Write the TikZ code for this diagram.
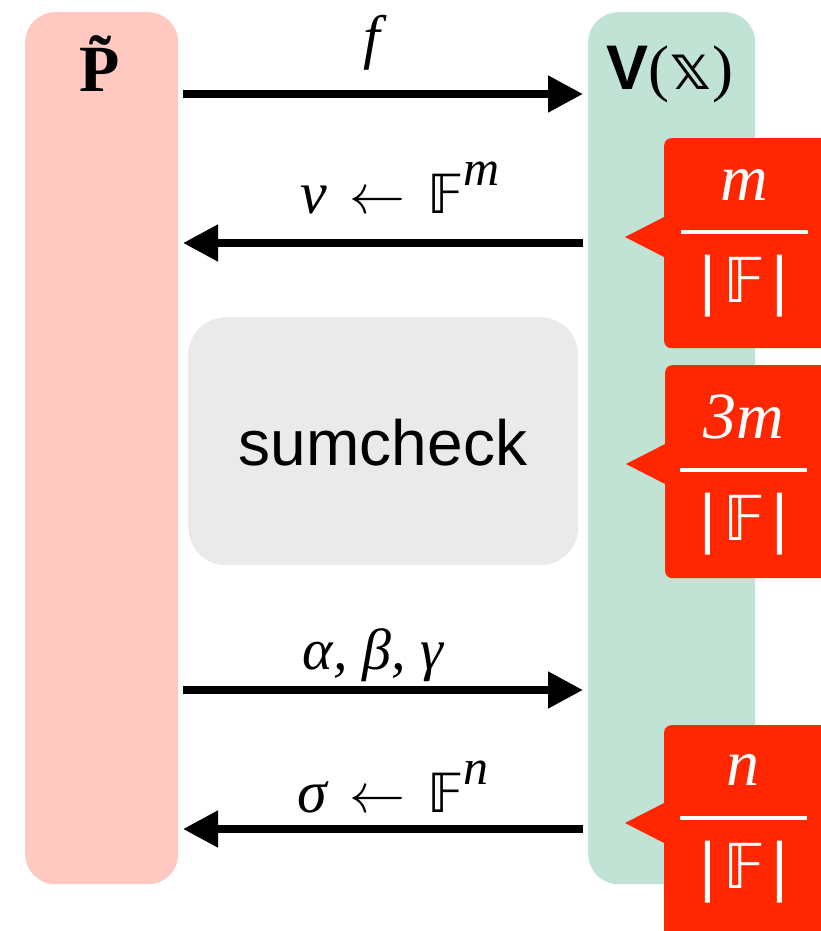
\documentclass[tikz,border=0pt]{standalone}
\usepackage{fontspec}
\setmainfont{Liberation Serif}
\setsansfont{Liberation Sans}
\newfontfamily\dvs{DejaVu Sans}
\usetikzlibrary{arrows.meta}
\definecolor{pinkcol}{HTML}{FFC8C0}
\definecolor{greencol}{HTML}{C0E3D5}
\definecolor{graycol}{HTML}{EAEAEA}
\definecolor{redcol}{HTML}{FF2600}
\newcommand{\smallF}{{\dvs\fontsize{54}{54}\selectfont 𝔽}}
\newcommand{\larr}{\hspace{22pt}\resizebox{56pt}{!}{\normalsize$\leftarrow$}\hspace{22pt}}
\newcommand{\supx}[1]{\raisebox{28pt}{\fontsize{50}{50}\selectfont #1}}
\newcommand{\cardF}{{\dvs |\hspace{5pt}𝔽\hspace{5pt}|}}
\begin{document}
\begin{tikzpicture}[x=1pt,y=-1pt,
  column/.style={rectangle, rounded corners=30pt, inner sep=0pt, anchor=north west, minimum width=#1, minimum height=872pt},
  arr/.style={line width=8pt, -{Triangle[length=35pt,width=35pt]}},
  lbl/.style={anchor=base, inner sep=0pt, font=\fontsize{60}{60}\selectfont\itshape},
  callbox/.style={rectangle, rounded corners=7pt, fill=redcol, inner sep=0pt, anchor=north west, minimum width=190pt, minimum height=#1},
  fracnum/.style={anchor=base, inner sep=0pt, text=white, font=\fontsize{66}{66}\selectfont\itshape},
  fracden/.style={anchor=base, inner sep=0pt, text=white, font=\fontsize{62}{62}\selectfont},
  fracbar/.style={white, line width=4pt},
  pointer/.style={fill=redcol}
]
\useasboundingbox (0,0) rectangle (821,931);
\clip (0,0) rectangle (821,931);

% columns
\node[column=153pt, fill=pinkcol] (P) at (25,12) {};
\node[column=167pt, fill=greencol] (V) at (588,12) {};
\node[anchor=base, inner sep=0pt, font=\fontsize{66}{66}\selectfont\bfseries] (Ptitle) at (100,92) {\~P};
\node[anchor=base, inner sep=0pt, font=\fontsize{63}{63}\selectfont] (Vtitle) at (670,90) {{\sffamily\bfseries V}({\dvs 𝕩})};

% sumcheck
\node[rectangle, rounded corners=38pt, fill=graycol, anchor=north west, minimum width=390pt, minimum height=248pt, inner sep=0pt] (S) at (188,317) {};
\node[anchor=base, inner sep=0pt, font=\fontsize{64}{64}\selectfont\sffamily] (Stext) at (383,465) {sumcheck};

% arrow end points
\coordinate (p1) at (183,94);  \coordinate (v1) at (583,94);
\coordinate (p2) at (183,243); \coordinate (v2) at (583,243);
\coordinate (p3) at (183,690); \coordinate (v3) at (583,690);
\coordinate (p4) at (183,829); \coordinate (v4) at (583,829);
\draw[arr] (p1) -- (v1);
\draw[arr] (v2) -- (p2);
\draw[arr] (p3) -- (v3);
\draw[arr] (v4) -- (p4);

% labels
\node[lbl] (l1) at (372,58) {f};
\node[lbl] (l2) at (400,213) {ν\larr\smallF\supx{m}};
\node[lbl, font=\fontsize{58}{58}\selectfont\itshape] (l3) at (373,669) {α, β, γ};
\node[lbl] (l4) at (393,812) {σ\larr\smallF\supx{n}};

% callouts
\node[callbox=210pt] (c1) at (664,138) {};
\fill[pointer] (625,237) -- (666,216) -- (666,258) -- cycle;
\node[fracnum] (c1n) at (744,200) {m};
\draw[fracbar] (681,232) -- (808,232);
\node[fracden] (c1d) at (744,302) {\cardF};

\node[callbox=213pt] (c2) at (665,365) {};
\fill[pointer] (626,464) -- (667,443) -- (667,485) -- cycle;
\node[fracnum] (c2n) at (744,438) {3m};
\draw[fracbar] (680,470) -- (807,470);
\node[fracden] (c2d) at (744,540) {\cardF};

\node[callbox=230pt] (c3) at (664,725) {};
\fill[pointer] (625,823) -- (666,802) -- (666,844) -- cycle;
\node[fracnum] (c3n) at (743,785) {n};
\draw[fracbar] (680,818) -- (807,818);
\node[fracden] (c3d) at (744,888) {\cardF};
\end{tikzpicture}
\end{document}
